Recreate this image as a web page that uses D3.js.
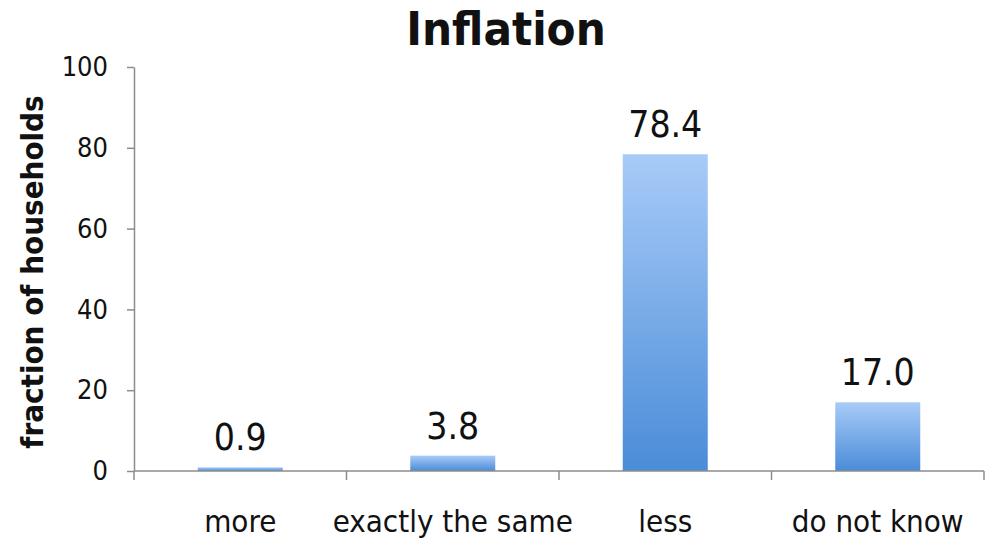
<!DOCTYPE html>
<html>
<head>
<meta charset="utf-8">
<script src="https://cdn.jsdelivr.net/npm/d3@7"></script>
<style>
  html, body { margin: 0; padding: 0; background: #fff; }
  svg { display: block; }
  text { font-family: "DejaVu Sans Condensed", "DejaVu Sans", sans-serif; font-stretch: condensed; fill: #111; }
</style>
</head>
<body>
<svg id="chart" width="990" height="539"></svg>
<script>
// Survey answers: expected inflation
const categories = ["more", "exactly the same", "less", "do not know"];
const values = [0.9, 3.8, 78.4, 17.0];
const yTicks = [0, 20, 40, 60, 80, 100];
const title = "Inflation";
const yTitle = "fraction of households";

const svg = d3.select("#chart");
const margin = { left: 134, right: 6, top: 67, bottom: 68 };
const W = 990, H = 539;

const x = d3.scaleBand()
  .domain(categories)
  .range([margin.left, W - margin.right])
  .paddingInner(0.6)
  .paddingOuter(0.3);

const y = d3.scaleLinear()
  .domain([0, 100])
  .range([H - margin.bottom, margin.top]);

// Vertical light-to-dark blue gradient for the bars
const defs = svg.append("defs");
const grad = defs.append("linearGradient")
  .attr("id", "barGrad")
  .attr("x1", 0).attr("y1", 0).attr("x2", 0).attr("y2", 1);
grad.append("stop").attr("offset", "0%").attr("stop-color", "#a8cbf8");
grad.append("stop").attr("offset", "100%").attr("stop-color", "#4a8cd8");

// Bars
svg.append("g").selectAll("rect")
  .data(values)
  .join("rect")
  .attr("x", (d, i) => x(categories[i]))
  .attr("width", x.bandwidth())
  .attr("y", d => y(d))
  .attr("height", d => y(0) - y(d))
  .attr("fill", "url(#barGrad)");

// Value labels
svg.append("g").selectAll("text")
  .data(values)
  .join("text")
  .attr("x", (d, i) => x(categories[i]) + x.bandwidth() / 2)
  .attr("y", d => y(d) - 17)
  .attr("text-anchor", "middle")
  .style("font-size", "37px")
  .text(d => d.toFixed(1));

// Y axis
const yAxis = svg.append("g")
  .attr("transform", `translate(${margin.left},0)`)
  .call(d3.axisLeft(y).tickValues(yTicks).tickSize(7).tickPadding(19).tickSizeOuter(0));
yAxis.select(".domain").attr("stroke", "#8c8c8c").attr("stroke-width", 1.5);
yAxis.selectAll(".tick line").attr("stroke", "#8c8c8c").attr("stroke-width", 1.5);
yAxis.selectAll(".tick text")
  .style("font-size", "27px")
  .style("font-family", "'DejaVu Sans Condensed', 'DejaVu Sans', sans-serif")
  .attr("fill", "#222");

// X axis with separators between categories
const xAxisG = svg.append("g").attr("transform", `translate(0,${y(0)})`);
xAxisG.append("line")
  .attr("x1", margin.left).attr("x2", W - margin.right)
  .attr("stroke", "#8c8c8c").attr("stroke-width", 1.5);
const step = x.step();
const boundaries = categories.map((c, i) => x(c) - x.paddingInner() * step / 2)
  .concat([x(categories[categories.length - 1]) + x.bandwidth() + x.paddingInner() * step / 2]);
xAxisG.selectAll("line.sep")
  .data(boundaries)
  .join("line")
  .attr("class", "sep")
  .attr("x1", d => d).attr("x2", d => d)
  .attr("y1", 0).attr("y2", 9)
  .attr("stroke", "#8c8c8c").attr("stroke-width", 1.5);

// Category labels
svg.append("g").selectAll("text")
  .data(categories)
  .join("text")
  .attr("x", d => x(d) + x.bandwidth() / 2)
  .attr("y", 532)
  .attr("text-anchor", "middle")
  .style("font-size", "31px")
  .text(d => d);

// Title
svg.append("text")
  .attr("x", 506)
  .attr("y", 45)
  .attr("text-anchor", "middle")
  .style("font-size", "47px")
  .style("font-weight", "bold")
  .text(title);

// Y axis title
svg.append("text")
  .attr("transform", "translate(43,272) rotate(-90)")
  .attr("text-anchor", "middle")
  .style("font-size", "31px")
  .style("font-weight", "bold")
  .text(yTitle);
</script>
</body>
</html>
